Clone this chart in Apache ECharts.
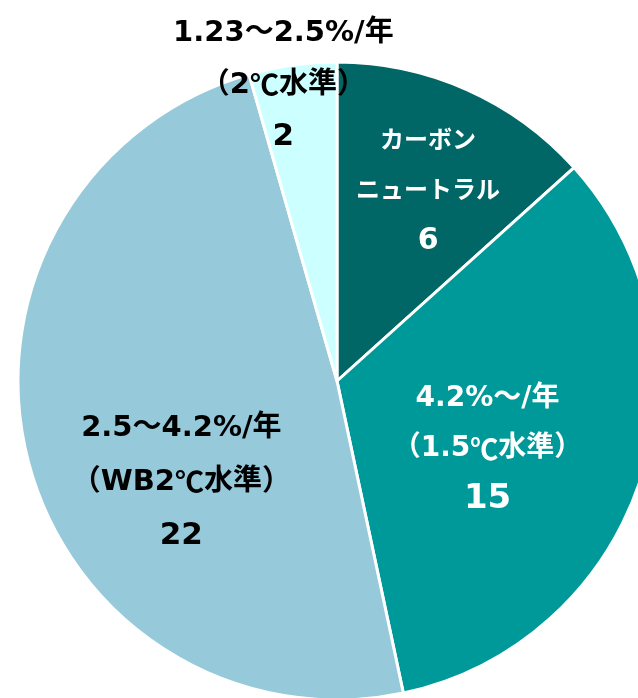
<!DOCTYPE html>
<html>
<head>
<meta charset="utf-8">
<script src="https://cdn.jsdelivr.net/npm/echarts@6/dist/echarts.min.js"></script>
<style>
html,body{margin:0;padding:0;background:#fff;}
#chart{width:638px;height:698px;}
</style>
</head>
<body>
<div id="chart"></div>
<script>
// Data (clockwise from 12 o'clock)
const labelLine1 = ['カーボン', '4.2%～/年', '2.5～4.2%/年', '1.23～2.5%/年'];
const labelLine2 = ['ニュートラル', '（1.5℃水準）', '（WB2℃水準）', '（2℃水準）'];
const values = [6, 15, 22, 2];

// Styles
const colors = ['#006666', '#009999', '#96CADB', '#CCFFFF'];
const textColors = ['#ffffff', '#ffffff', '#000000', '#000000'];
const lineSize = [24, 28, 29, 29];
const valueSize = [30, 34, 31, 31];
const lineH = [50, 50, 54, 52];
const shifts = [[25, -41], [-4, 18], [2, 62], [-31, -135]];

const FONT = "'DejaVu Sans', 'Noto Sans CJK JP', sans-serif";
const CJK = "'Noto Sans CJK JP', sans-serif";

function richLine(text) {
  // render ℃ with the CJK glyph
  return '{t|' + text.split('℃').join('}{c|℃}{t|') + '}';
}

const chart = echarts.init(document.getElementById('chart'), null, {renderer: 'canvas'});

const data = values.map((v, i) => ({
  value: v,
  name: labelLine1[i] + labelLine2[i],
  itemStyle: { color: colors[i] },
  label: {
    formatter: richLine(labelLine1[i]) + '\n' + richLine(labelLine2[i]) + '\n{v|{c}}',
    rich: {
      t: { fontFamily: FONT, fontWeight: 'bold', fontSize: lineSize[i], color: textColors[i], lineHeight: lineH[i] },
      c: { fontFamily: CJK, fontWeight: 'bold', fontSize: lineSize[i], color: textColors[i], lineHeight: lineH[i] },
      v: { fontFamily: FONT, fontWeight: 'bold', fontSize: valueSize[i], color: textColors[i], lineHeight: lineH[i] }
    }
  }
}));

chart.setOption({
  animation: false,
  series: [{
    type: 'pie',
    center: [337, 381],
    radius: [0, 319],
    startAngle: 90,
    clockwise: true,
    data: data,
    itemStyle: { borderColor: '#ffffff', borderWidth: 3 },
    label: { show: true, position: 'inside', align: 'center' },
    labelLine: { show: false },
    labelLayout: function (params) {
      const s = shifts[params.dataIndex];
      return { dx: s[0], dy: s[1] };
    },
    emphasis: { disabled: true }
  }]
});
</script>
</body>
</html>
